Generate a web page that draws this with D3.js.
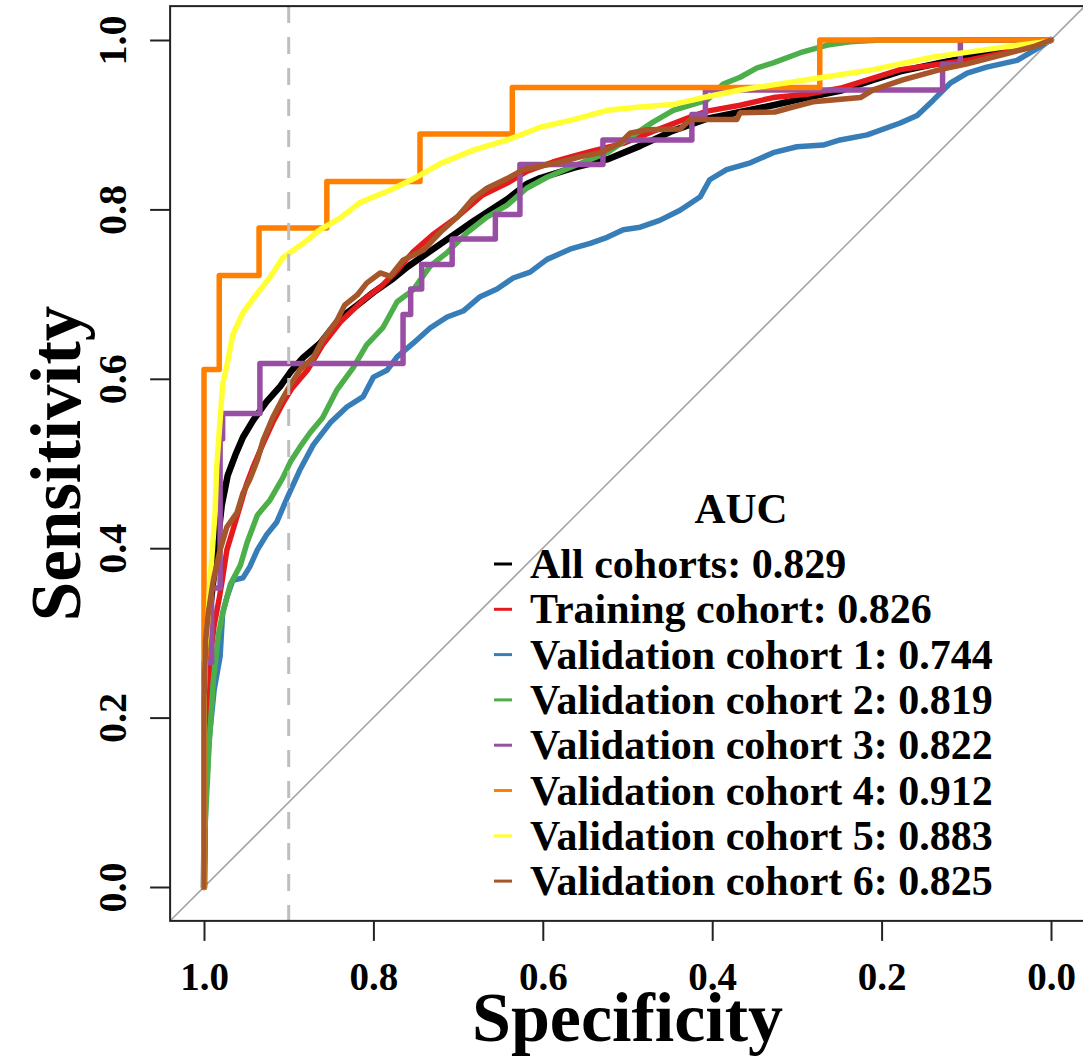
<!DOCTYPE html>
<html>
<head>
<meta charset="utf-8">
<script src="https://cdn.jsdelivr.net/npm/d3@7"></script>
<style>
  body { margin: 0; background: #fff; }
  svg text { font-family: "Liberation Serif", "Times New Roman", serif; font-weight: bold; fill: #000; }
</style>
</head>
<body>
<svg id="chart" width="1083" height="1063"></svg>
<script>
// legend labels and AUC
const cohortNames = [
  "All cohorts", "Training cohort",
  "Validation cohort 1", "Validation cohort 2", "Validation cohort 3",
  "Validation cohort 4", "Validation cohort 5", "Validation cohort 6",
];
const aucValues = [0.829, 0.826, 0.744, 0.819, 0.822, 0.912, 0.883, 0.825];

const xTicks = [1.0, 0.8, 0.6, 0.4, 0.2, 0.0];
const yTicks = [0.0, 0.2, 0.4, 0.6, 0.8, 1.0];
const cutoffSpecificity = 0.9;

// ROC points: [specificity, sensitivity]
const allCohorts = [
  [1, 0], [0.999, 0.138], [0.998, 0.221], [0.995, 0.28], [0.993, 0.327], [0.989, 0.362],
  [0.985, 0.398], [0.979, 0.451], [0.972, 0.486], [0.963, 0.51], [0.954, 0.531],
  [0.942, 0.551], [0.926, 0.573], [0.91, 0.591], [0.898, 0.608], [0.883, 0.625],
  [0.863, 0.642], [0.839, 0.672], [0.819, 0.687], [0.8, 0.702], [0.777, 0.718],
  [0.76, 0.732], [0.721, 0.759], [0.682, 0.786], [0.642, 0.812], [0.619, 0.83],
  [0.603, 0.837], [0.564, 0.849], [0.524, 0.859], [0.485, 0.875], [0.446, 0.893],
  [0.406, 0.907], [0.367, 0.915], [0.328, 0.923], [0.288, 0.932], [0.249, 0.94],
  [0.21, 0.953], [0.178, 0.963], [0.131, 0.973], [0.08, 0.983], [0.04, 0.992], [0, 1],
];
const trainingCohort = [
  [1, 0], [0.999, 0.126], [0.996, 0.209], [0.993, 0.268], [0.988, 0.309], [0.982, 0.341],
  [0.978, 0.365], [0.973, 0.398], [0.966, 0.421], [0.957, 0.451], [0.95, 0.475],
  [0.942, 0.496], [0.93, 0.524], [0.919, 0.548], [0.907, 0.571], [0.896, 0.589],
  [0.878, 0.61], [0.86, 0.64], [0.839, 0.667], [0.812, 0.693], [0.792, 0.708],
  [0.772, 0.728], [0.753, 0.75], [0.73, 0.77], [0.701, 0.791], [0.671, 0.817],
  [0.642, 0.831], [0.619, 0.845], [0.588, 0.856], [0.564, 0.863], [0.541, 0.869],
  [0.505, 0.878], [0.465, 0.894], [0.426, 0.909], [0.406, 0.916], [0.367, 0.923],
  [0.328, 0.932], [0.288, 0.936], [0.249, 0.943], [0.21, 0.955], [0.178, 0.965],
  [0.099, 0.976], [0.021, 0.992], [0, 1],
];
const validation1 = [
  [1, 0], [0.998, 0.103], [0.994, 0.174], [0.988, 0.233], [0.981, 0.272], [0.978, 0.323],
  [0.973, 0.342], [0.966, 0.362], [0.954, 0.365], [0.946, 0.378], [0.937, 0.398],
  [0.926, 0.416], [0.914, 0.431], [0.902, 0.459], [0.887, 0.492], [0.871, 0.522],
  [0.851, 0.548], [0.831, 0.567], [0.812, 0.579], [0.8, 0.602], [0.784, 0.61],
  [0.772, 0.626], [0.753, 0.642], [0.733, 0.66], [0.713, 0.673], [0.694, 0.68],
  [0.674, 0.697], [0.654, 0.706], [0.635, 0.719], [0.615, 0.726], [0.595, 0.741],
  [0.568, 0.753], [0.544, 0.76], [0.524, 0.767], [0.505, 0.776], [0.485, 0.779],
  [0.462, 0.787], [0.438, 0.799], [0.414, 0.815], [0.403, 0.835], [0.383, 0.847],
  [0.355, 0.855], [0.328, 0.867], [0.3, 0.874], [0.269, 0.876], [0.249, 0.882],
  [0.217, 0.888], [0.178, 0.902], [0.158, 0.911], [0.139, 0.929], [0.119, 0.949],
  [0.099, 0.961], [0.076, 0.968], [0.04, 0.976], [0.013, 0.992], [0, 1],
];
const validation2 = [
  [1, 0], [0.999, 0.067], [0.996, 0.126], [0.994, 0.168], [0.992, 0.197], [0.989, 0.244],
  [0.983, 0.298], [0.978, 0.323], [0.969, 0.357], [0.957, 0.38], [0.949, 0.407],
  [0.937, 0.439], [0.922, 0.457], [0.907, 0.483], [0.898, 0.502], [0.887, 0.519],
  [0.875, 0.536], [0.86, 0.554], [0.843, 0.587], [0.824, 0.613], [0.808, 0.64],
  [0.789, 0.66], [0.772, 0.691], [0.753, 0.705], [0.733, 0.733], [0.713, 0.749],
  [0.689, 0.773], [0.666, 0.791], [0.642, 0.805], [0.619, 0.825], [0.595, 0.838],
  [0.564, 0.851], [0.524, 0.867], [0.494, 0.887], [0.47, 0.903], [0.446, 0.917],
  [0.406, 0.929], [0.387, 0.948], [0.367, 0.956], [0.347, 0.967], [0.328, 0.973],
  [0.296, 0.985], [0.264, 0.994], [0.237, 0.998], [0.202, 1], [0, 1],
];
const validation3 = [
  [1, 0], [1, 0.265], [0.991, 0.265], [0.991, 0.353], [0.981, 0.353], [0.981, 0.529],
  [0.978, 0.529], [0.978, 0.559], [0.934, 0.559], [0.934, 0.618], [0.765, 0.618],
  [0.765, 0.676], [0.756, 0.676], [0.756, 0.706], [0.743, 0.706], [0.743, 0.735],
  [0.707, 0.735], [0.707, 0.765], [0.656, 0.765], [0.656, 0.794], [0.627, 0.794],
  [0.627, 0.853], [0.529, 0.853], [0.529, 0.882], [0.424, 0.882], [0.424, 0.912],
  [0.408, 0.912], [0.408, 0.941], [0.128, 0.941], [0.128, 0.971], [0.107, 0.971],
  [0.107, 1], [0, 1],
];
const validation4 = [
  [1, 0], [1, 0.611], [0.982, 0.611], [0.982, 0.722], [0.935, 0.722], [0.935, 0.778],
  [0.855, 0.778], [0.855, 0.833], [0.745, 0.833], [0.745, 0.889], [0.636, 0.889],
  [0.636, 0.944], [0.273, 0.944], [0.273, 1], [0, 1],
];
const validation5 = [
  [1, 0], [1, 0.221], [0.998, 0.28], [0.995, 0.323], [0.993, 0.362], [0.991, 0.386],
  [0.987, 0.442], [0.985, 0.496], [0.981, 0.551], [0.978, 0.593], [0.973, 0.616],
  [0.966, 0.652], [0.954, 0.678], [0.937, 0.701], [0.922, 0.72], [0.907, 0.743],
  [0.883, 0.76], [0.863, 0.776], [0.839, 0.79], [0.816, 0.808], [0.78, 0.823],
  [0.749, 0.838], [0.721, 0.854], [0.682, 0.87], [0.642, 0.882], [0.603, 0.897],
  [0.564, 0.906], [0.524, 0.917], [0.485, 0.921], [0.446, 0.924], [0.406, 0.933],
  [0.367, 0.941], [0.328, 0.947], [0.288, 0.953], [0.249, 0.959], [0.21, 0.965],
  [0.139, 0.98], [0.06, 0.991], [0.005, 0.998], [0, 1],
];
const validation6 = [
  [1, 0], [1, 0.221], [0.998, 0.292], [0.995, 0.323], [0.989, 0.362], [0.981, 0.398],
  [0.973, 0.425], [0.961, 0.442], [0.954, 0.465], [0.946, 0.481], [0.937, 0.504],
  [0.93, 0.528], [0.919, 0.554], [0.907, 0.577], [0.898, 0.593], [0.887, 0.61],
  [0.871, 0.625], [0.86, 0.646], [0.843, 0.669], [0.834, 0.687], [0.819, 0.699],
  [0.808, 0.713], [0.792, 0.725], [0.78, 0.721], [0.765, 0.74], [0.741, 0.752],
  [0.721, 0.773], [0.701, 0.791], [0.682, 0.813], [0.666, 0.825], [0.639, 0.838],
  [0.623, 0.847], [0.583, 0.855], [0.556, 0.862], [0.532, 0.867], [0.509, 0.878],
  [0.497, 0.89], [0.477, 0.894], [0.438, 0.895], [0.426, 0.906], [0.371, 0.906],
  [0.367, 0.914], [0.326, 0.915], [0.308, 0.92], [0.281, 0.927], [0.225, 0.932],
  [0.21, 0.941], [0.175, 0.953], [0.131, 0.965], [0.099, 0.972], [0.06, 0.982],
  [0.021, 0.992], [0, 1],
];

const curves = [allCohorts, trainingCohort, validation1, validation2,
  validation3, validation4, validation5, validation6];
const colors = ["#000000", "#E41A1C", "#377EB8", "#4DAF4A",
  "#984EA3", "#FF7F00", "#FFFF33", "#A65628"];

const svg = d3.select("#chart");

const x = d3.scaleLinear().domain([1, 0]).range([204, 1051]);
const y = d3.scaleLinear().domain([0, 1]).range([887, 40]);

// plot box, R style 4% extension
const box = { x0: x(1.04), x1: x(-0.04), y0: y(1.04), y1: y(-0.04) };

svg.append("defs").append("clipPath").attr("id", "plotclip")
  .append("rect")
  .attr("x", box.x0).attr("y", box.y0)
  .attr("width", box.x1 - box.x0).attr("height", box.y1 - box.y0);

const plot = svg.append("g").attr("clip-path", "url(#plotclip)");

// chance diagonal
plot.append("line")
  .attr("x1", x(1.04)).attr("y1", y(-0.04))
  .attr("x2", x(-0.04)).attr("y2", y(1.04))
  .attr("stroke", "#a8a8a8").attr("stroke-width", 1.6);

const line = d3.line().x((d) => x(d[0])).y((d) => y(d[1]));

curves.forEach((pts, i) => {
  plot.append("path")
    .datum(pts)
    .attr("d", line)
    .attr("fill", "none")
    .attr("stroke", colors[i])
    .attr("stroke-width", i === 0 ? 6.5 : 5.5)
    .attr("stroke-linejoin", "round")
    .attr("stroke-linecap", "round");
});

// cutoff line
plot.append("line")
  .attr("x1", x(cutoffSpecificity)).attr("x2", x(cutoffSpecificity))
  .attr("y1", box.y0).attr("y2", box.y1)
  .attr("stroke", "#bebebe").attr("stroke-width", 3)
  .attr("stroke-dasharray", "17,14");

svg.append("rect")
  .attr("x", box.x0).attr("y", box.y0)
  .attr("width", box.x1 - box.x0).attr("height", box.y1 - box.y0)
  .attr("fill", "none").attr("stroke", "#222").attr("stroke-width", 2);

// axes
const xAxis = svg.append("g")
  .attr("transform", `translate(0,${box.y1})`)
  .call(d3.axisBottom(x).tickValues(xTicks).tickFormat(d3.format(".1f"))
    .tickSize(20).tickPadding(21));
xAxis.select(".domain").remove();
xAxis.selectAll(".tick line").attr("stroke", "#222").attr("stroke-width", 2);
xAxis.selectAll("text").style("font-size", "39px").attr("fill", "#000");

const yAxis = svg.append("g")
  .attr("transform", `translate(${box.x0},0)`)
  .call(d3.axisLeft(y).tickValues(yTicks).tickFormat(d3.format(".1f")).tickSize(20));
yAxis.select(".domain").remove();
yAxis.selectAll(".tick line").attr("stroke", "#222").attr("stroke-width", 2);
yAxis.selectAll("text")
  .style("font-size", "40px").attr("fill", "#000")
  .attr("x", null).attr("dy", null)
  .attr("text-anchor", "middle")
  .attr("transform", "translate(-44,0) rotate(-90)");

svg.append("text")
  .attr("x", (x(1) + x(0)) / 2).attr("y", 1041)
  .attr("text-anchor", "middle")
  .style("font-size", "70px")
  .text("Specificity");

svg.append("text")
  .attr("transform", `translate(80,${(y(0) + y(1)) / 2}) rotate(-90)`)
  .attr("text-anchor", "middle")
  .style("font-size", "71px")
  .text("Sensitivity");

// legend
const legend = svg.append("g");
legend.append("text")
  .attr("x", 741).attr("y", 523)
  .attr("text-anchor", "middle")
  .style("font-size", "43px")
  .text("AUC");

const rows = legend.selectAll(".row")
  .data(cohortNames)
  .enter()
  .append("g")
  .attr("class", "row")
  .attr("transform", (d, i) => `translate(0,${578 + i * 45.3})`);

rows.append("line")
  .attr("x1", 494).attr("x2", 512)
  .attr("y1", -14).attr("y2", -14)
  .attr("stroke", (d, i) => colors[i])
  .attr("stroke-width", 3);

rows.append("text")
  .attr("x", 530).attr("y", 0)
  .style("font-size", "42px")
  .text((d, i) => `${d}: ${aucValues[i].toFixed(3)}`);
</script>
</body>
</html>
